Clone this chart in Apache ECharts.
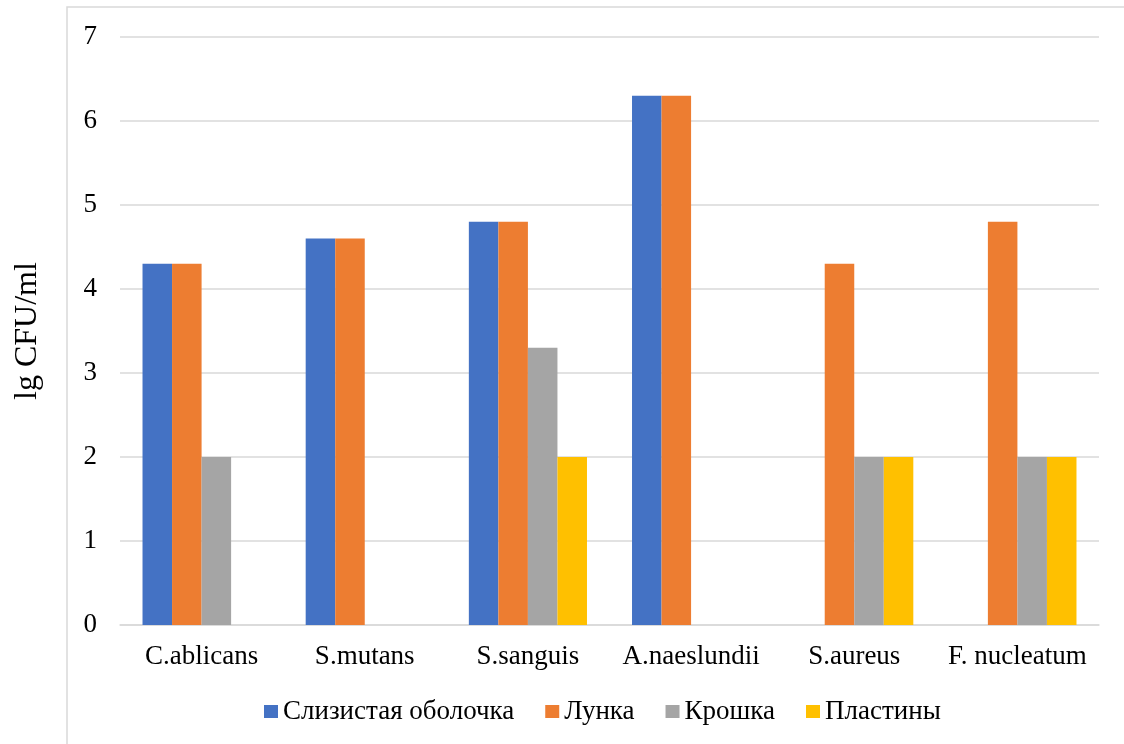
<!DOCTYPE html>
<html>
<head>
<meta charset="utf-8">
<script src="https://cdn.jsdelivr.net/npm/echarts@6/dist/echarts.min.js"></script>
<style>
  html, body { margin: 0; padding: 0; background: #fff; }
  #chart { width: 1124px; height: 744px; }
</style>
</head>
<body>
<div id="chart"></div>
<script>
// Microorganism counts by sampling site
const categories = ['C.ablicans', 'S.mutans', 'S.sanguis', 'A.naeslundii', 'S.aureus', 'F. nucleatum'];
const seriesNames = ['Слизистая оболочка', 'Лунка', 'Крошка', 'Пластины'];
const mucosa = [4.3, 4.6, 4.8, 6.3, null, null];
const socket = [4.3, 4.6, 4.8, 6.3, 4.3, 4.8];
const crumb = [2, null, 3.3, null, 2, 2];
const plates = [null, null, 2, null, 2, 2];
const colors = ['#4472C4', '#ED7D31', '#A5A5A5', '#FFC000'];
const yTicks = { min: 0, max: 7, interval: 1 };

const font = '"Liberation Serif", "Times New Roman", serif';
const chart = echarts.init(document.getElementById('chart'));

const valueSets = [mucosa, socket, crumb, plates];
const series = seriesNames.map((name, i) => ({
  name,
  type: 'bar',
  data: valueSets[i],
  barGap: '0%',
  barCategoryGap: '27.6%',
  itemStyle: { color: colors[i] }
}));

chart.setOption({
  animation: false,
  color: colors,
  graphic: [{
    type: 'rect',
    shape: { x: 67, y: 7, width: 1200, height: 900 },
    style: { fill: 'none', stroke: '#D9D9D9', lineWidth: 1.5 },
    silent: true
  }],
  grid: { left: 120, right: 25, top: 37, bottom: 119, containLabel: false },
  legend: {
    data: seriesNames,
    top: 693,
    left: 259,
    itemWidth: 14,
    itemHeight: 13,
    itemGap: 31,
    icon: 'rect',
    textStyle: { fontFamily: font, fontSize: 27, color: '#000' }
  },
  xAxis: {
    type: 'category',
    data: categories,
    axisLine: { lineStyle: { color: '#D9D9D9', width: 1.5 } },
    axisTick: { show: false },
    axisLabel: { fontFamily: font, fontSize: 27, color: '#000', margin: 18, interval: 0 }
  },
  yAxis: {
    type: 'value',
    min: yTicks.min,
    max: yTicks.max,
    interval: yTicks.interval,
    name: 'lg CFU/ml',
    nameLocation: 'middle',
    nameGap: 76,
    nameTextStyle: { fontFamily: font, fontSize: 32, color: '#000' },
    axisLine: { show: false },
    axisTick: { show: false },
    axisLabel: { fontFamily: font, fontSize: 27, color: '#000', margin: 23 },
    splitLine: { lineStyle: { color: '#D9D9D9', width: 1.5 } }
  },
  series
});
</script>
</body>
</html>
